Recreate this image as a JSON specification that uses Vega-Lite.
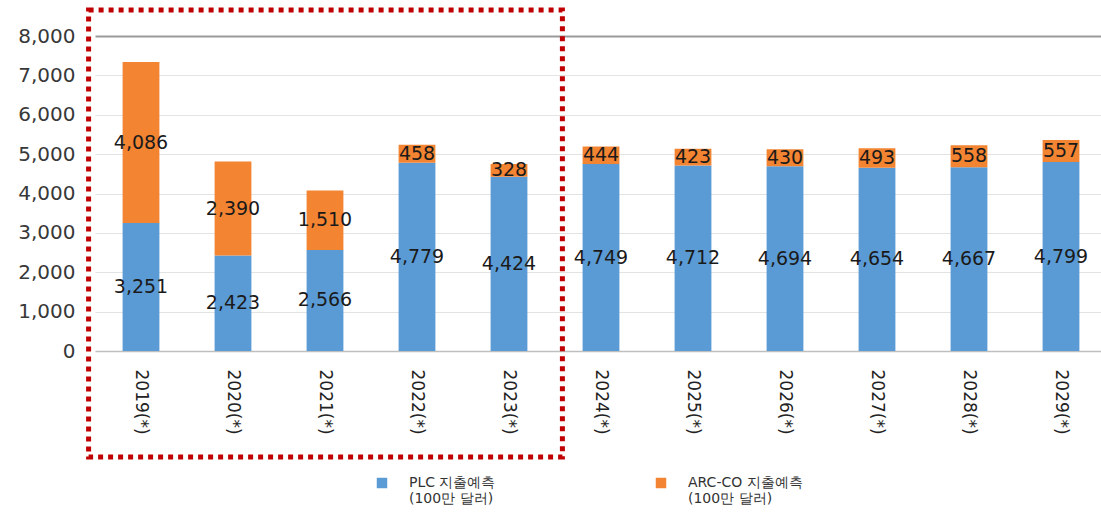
{
  "$schema": "https://vega.github.io/schema/vega-lite/v6.json",
  "autosize": {"type": "none"},
  "width": 1012,
  "height": 315,
  "padding": {"left": 95, "top": 36, "right": 0, "bottom": 164},
  "background": "white",
  "config": {
    "view": {"stroke": null},
    "font": "DejaVu Sans",
    "axisY": {
      "title": null, "labelFontSize": 20, "labelColor": "#383838", "labelPadding": 20,
      "ticks": false, "domain": false,
      "gridColor": {"condition": {"test": "datum.value == 8000", "value": "#9a9a9a"}, "value": "#e3e3e3"},
      "gridWidth": {"condition": {"test": "datum.value == 8000", "value": 2}, "value": 1}
    }
  },
  "datasets": {
    "bars": [
      {"year": "2019(*)", "series": "PLC 지출예측|(100만 달러)", "rank": 1, "value": 3251},
      {"year": "2019(*)", "series": "ARC-CO 지출예측|(100만 달러)", "rank": 2, "value": 4086},
      {"year": "2020(*)", "series": "PLC 지출예측|(100만 달러)", "rank": 1, "value": 2423},
      {"year": "2020(*)", "series": "ARC-CO 지출예측|(100만 달러)", "rank": 2, "value": 2390},
      {"year": "2021(*)", "series": "PLC 지출예측|(100만 달러)", "rank": 1, "value": 2566},
      {"year": "2021(*)", "series": "ARC-CO 지출예측|(100만 달러)", "rank": 2, "value": 1510},
      {"year": "2022(*)", "series": "PLC 지출예측|(100만 달러)", "rank": 1, "value": 4779},
      {"year": "2022(*)", "series": "ARC-CO 지출예측|(100만 달러)", "rank": 2, "value": 458},
      {"year": "2023(*)", "series": "PLC 지출예측|(100만 달러)", "rank": 1, "value": 4424},
      {"year": "2023(*)", "series": "ARC-CO 지출예측|(100만 달러)", "rank": 2, "value": 328},
      {"year": "2024(*)", "series": "PLC 지출예측|(100만 달러)", "rank": 1, "value": 4749},
      {"year": "2024(*)", "series": "ARC-CO 지출예측|(100만 달러)", "rank": 2, "value": 444},
      {"year": "2025(*)", "series": "PLC 지출예측|(100만 달러)", "rank": 1, "value": 4712},
      {"year": "2025(*)", "series": "ARC-CO 지출예측|(100만 달러)", "rank": 2, "value": 423},
      {"year": "2026(*)", "series": "PLC 지출예측|(100만 달러)", "rank": 1, "value": 4694},
      {"year": "2026(*)", "series": "ARC-CO 지출예측|(100만 달러)", "rank": 2, "value": 430},
      {"year": "2027(*)", "series": "PLC 지출예측|(100만 달러)", "rank": 1, "value": 4654},
      {"year": "2027(*)", "series": "ARC-CO 지출예측|(100만 달러)", "rank": 2, "value": 493},
      {"year": "2028(*)", "series": "PLC 지출예측|(100만 달러)", "rank": 1, "value": 4667},
      {"year": "2028(*)", "series": "ARC-CO 지출예측|(100만 달러)", "rank": 2, "value": 558},
      {"year": "2029(*)", "series": "PLC 지출예측|(100만 달러)", "rank": 1, "value": 4799},
      {"year": "2029(*)", "series": "ARC-CO 지출예측|(100만 달러)", "rank": 2, "value": 557}
    ],
    "box": [
      {"from": "2019(*)", "to": "2023(*)", "top": 8660, "bottom": -2690}
    ]
  },
  "layer": [
    {
      "data": {"name": "bars"},
      "transform": [
        {"stack": "value", "groupby": ["year"], "sort": [{"field": "rank", "order": "ascending"}], "as": ["v0", "v1"]}
      ],
      "mark": {"type": "bar"},
      "encoding": {
        "x": {
          "field": "year", "type": "nominal", "sort": null,
          "scale": {"paddingInner": 0.6, "paddingOuter": 0.3},
          "axis": {
            "title": null, "labelAngle": 90, "labelFontSize": 17, "labelColor": "#222",
            "labelPadding": 18, "ticks": false, "domainColor": "#bfbfbf", "domainWidth": 1.5,
            "labelBaseline": "middle", "labelAlign": "left"
          }
        },
        "y": {
          "field": "v0", "type": "quantitative",
          "scale": {"domain": [0, 8000], "nice": false},
          "axis": {"values": [0,1000,2000,3000,4000,5000,6000,7000,8000], "format": ",d"}
        },
        "y2": {"field": "v1"},
        "color": {
          "field": "series", "type": "nominal",
          "scale": {"domain": ["PLC 지출예측|(100만 달러)", "ARC-CO 지출예측|(100만 달러)"], "range": ["#5b9bd5", "#f28432"]},
          "legend": {
            "title": null, "orient": "none", "legendX": 280, "legendY": 440, "padding": 0,
            "direction": "horizontal", "columns": 2,
            "symbolType": "square", "symbolSize": 110, "symbolStrokeWidth": 0,
            "labelExpr": "split(datum.label, '|')", "labelFontSize": 14, "labelColor": "#333",
            "labelOffset": 20, "columnPadding": 158, "labelLimit": 300
          }
        }
      }
    },
    {
      "data": {"name": "bars"},
      "transform": [
        {"stack": "value", "groupby": ["year"], "sort": [{"field": "rank", "order": "ascending"}], "as": ["v0", "v1"]},
        {"calculate": "(datum.v0 + datum.v1) / 2", "as": "mid"}
      ],
      "mark": {"type": "text", "fontSize": 19, "color": "#1a1a1a", "baseline": "middle"},
      "encoding": {
        "x": {"field": "year", "type": "nominal", "sort": null},
        "y": {"field": "mid", "type": "quantitative", "axis": {"values": [0,1000,2000,3000,4000,5000,6000,7000,8000], "format": ",d"}},
        "text": {"field": "value", "type": "quantitative", "format": ","}
      }
    },
    {
      "data": {"name": "box"},
      "mark": {"type": "rect", "fill": null, "stroke": "#c00000", "strokeWidth": 5, "strokeDash": [5, 5], "xOffset": -34, "x2Offset": 35, "clip": false},
      "encoding": {
        "x": {"field": "from", "type": "nominal", "bandPosition": 0},
        "x2": {"field": "to", "bandPosition": 1},
        "y": {"field": "top", "type": "quantitative", "axis": {"values": [0,1000,2000,3000,4000,5000,6000,7000,8000], "format": ",d"}},
        "y2": {"field": "bottom"}
      }
    }
  ]
}
